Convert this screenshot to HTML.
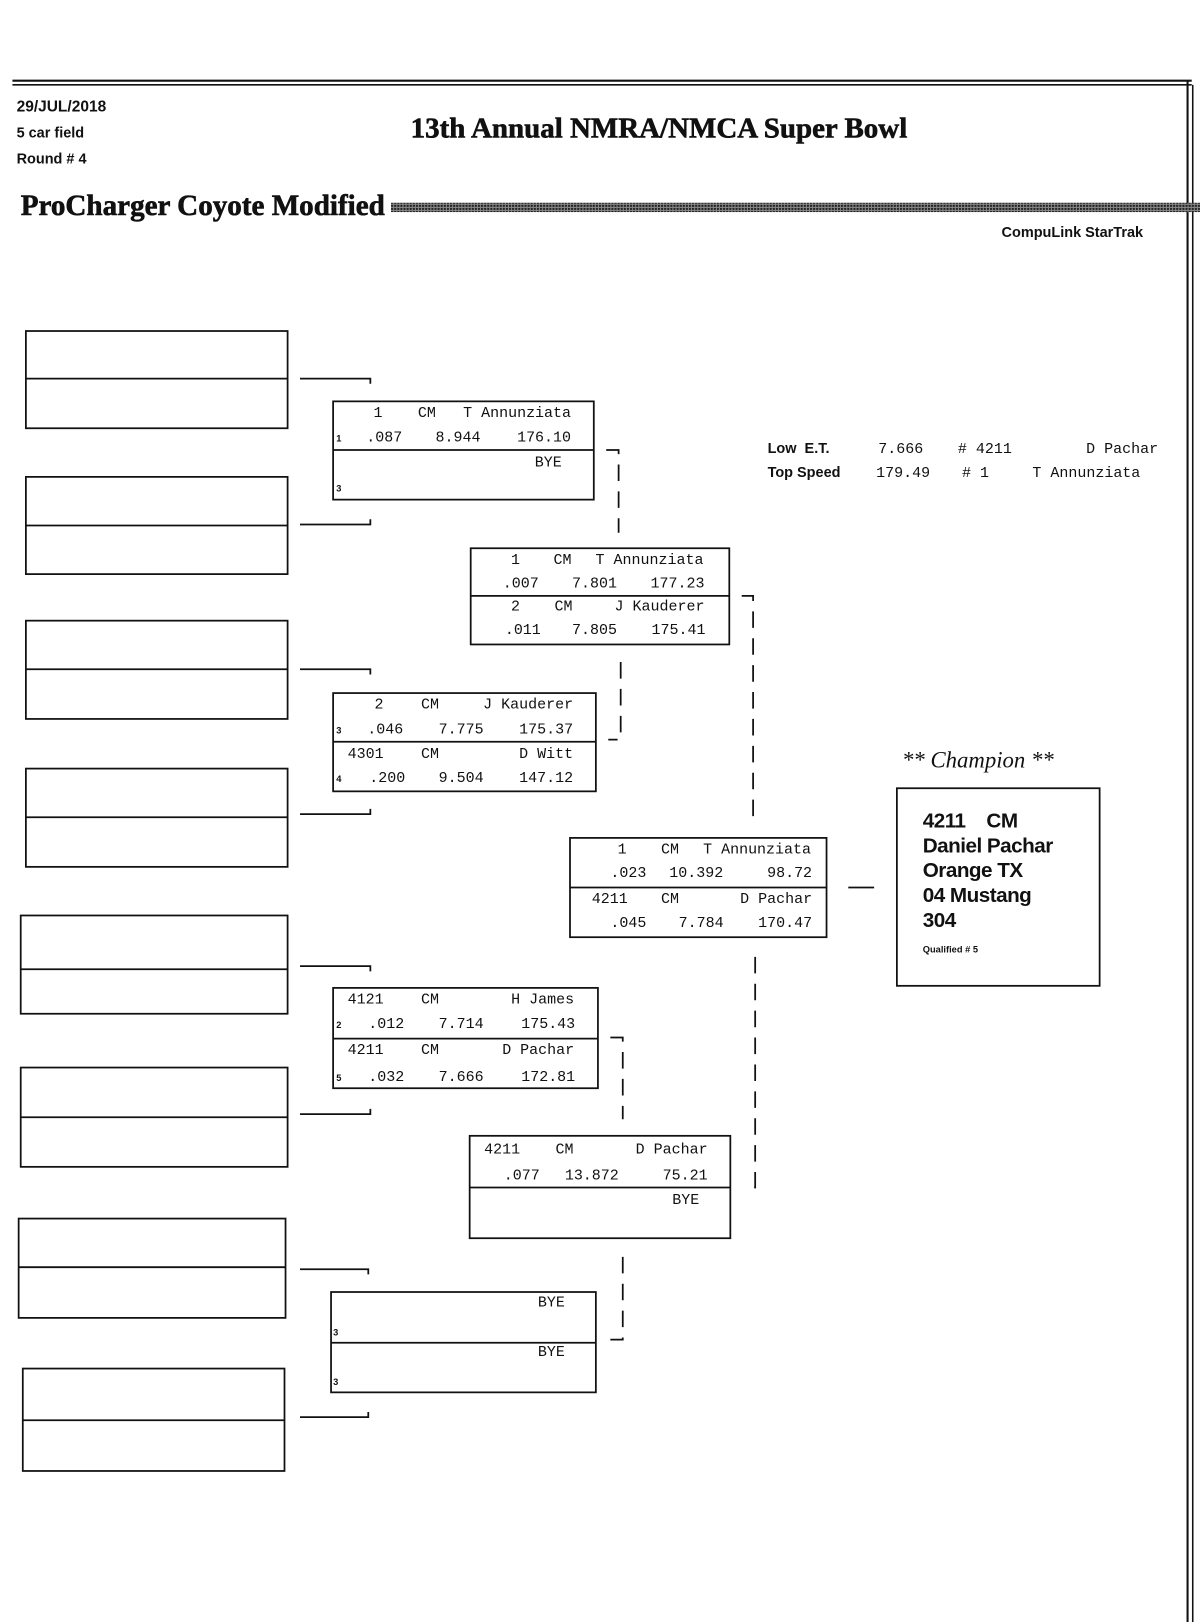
<!DOCTYPE html>
<html><head><meta charset="utf-8"><style>
html,body{margin:0;padding:0;background:#fff;}
svg{display:block}
.m{font-family:"Liberation Mono",monospace;font-size:14.5px;fill:#111}
.s{font-family:"Liberation Sans",sans-serif;font-size:9px;font-weight:bold;fill:#111}
.h{font-family:"Liberation Sans",sans-serif;font-weight:bold;fill:#111}
.t{font-family:"Liberation Serif",serif;font-weight:bold;fill:#111;stroke:#111;stroke-width:0.6}
.c{font-family:"Liberation Sans",sans-serif;font-weight:bold;font-size:20px;fill:#111;letter-spacing:-0.5px}
</style></head><body>
<svg width="1200" height="1622" viewBox="0 0 1160 1568" xmlns="http://www.w3.org/2000/svg">
<defs><pattern id="hat" width="3" height="3" patternUnits="userSpaceOnUse"><rect width="3" height="3" fill="#888"/><rect width="2" height="2" fill="#222"/></pattern></defs>
<g stroke="#111" fill="none">
<line x1="12" y1="78" x2="1152" y2="78" stroke-width="2"/>
<line x1="12" y1="82" x2="1152" y2="82" stroke-width="1.5"/>
<line x1="1148" y1="78" x2="1148" y2="1568" stroke-width="2"/>
<line x1="1153" y1="82" x2="1153" y2="1568" stroke-width="1.5"/>
</g>
<rect x="378" y="196" width="782" height="9" fill="url(#hat)"/>
<text class="h" x="16" y="108" font-size="15">29/JUL/2018</text>
<text class="h" x="16" y="133" font-size="14">5 car field</text>
<text class="h" x="16" y="158" font-size="14">Round # 4</text>
<text class="t" x="637" y="133" font-size="28" text-anchor="middle">13th Annual NMRA/NMCA Super Bowl</text>
<text class="t" x="20" y="208" font-size="29" transform="translate(20 0) scale(0.97 1) translate(-20 0)">ProCharger Coyote Modified</text>
<text class="h" x="1105" y="229" font-size="14" text-anchor="end">CompuLink StarTrak</text>

<g stroke="#111" stroke-width="1.7" fill="none">
<rect x="25" y="320" width="253" height="94"/><line x1="25" y1="366" x2="278" y2="366"/>
<rect x="25" y="461" width="253" height="94"/><line x1="25" y1="508" x2="278" y2="508"/>
<rect x="25" y="600" width="253" height="95"/><line x1="25" y1="647" x2="278" y2="647"/>
<rect x="25" y="743" width="253" height="95"/><line x1="25" y1="790" x2="278" y2="790"/>
<rect x="20" y="885" width="258" height="95"/><line x1="20" y1="937" x2="278" y2="937"/>
<rect x="20" y="1032" width="258" height="96"/><line x1="20" y1="1080" x2="278" y2="1080"/>
<rect x="18" y="1178" width="258" height="96"/><line x1="18" y1="1225" x2="276" y2="1225"/>
<rect x="22" y="1323" width="253" height="99"/><line x1="22" y1="1373" x2="275" y2="1373"/>

<path d="M290 366H358V371"/><path d="M290 507H358V502"/>
<path d="M290 647H358V652"/><path d="M290 787H358V782"/>
<path d="M290 934H358V939"/><path d="M290 1077H358V1072"/>
<path d="M290 1227H356V1232"/><path d="M290 1370H356V1365"/>

<rect x="322" y="388" width="252" height="95"/><line x1="322" y1="435" x2="574" y2="435"/>
<rect x="455" y="530" width="250" height="93"/><line x1="455" y1="576" x2="705" y2="576"/>
<rect x="322" y="670" width="254" height="95"/><line x1="322" y1="717" x2="576" y2="717"/>
<rect x="551" y="810" width="248" height="96"/><line x1="551" y1="858" x2="799" y2="858"/>
<rect x="322" y="955" width="256" height="97"/><line x1="322" y1="1004" x2="578" y2="1004"/>
<rect x="454" y="1098" width="252" height="99"/><line x1="454" y1="1148" x2="706" y2="1148"/>
<rect x="320" y="1249" width="256" height="97"/><line x1="320" y1="1298" x2="576" y2="1298"/>
<rect x="867" y="762" width="196" height="191"/>
<line x1="820" y1="858" x2="845" y2="858"/>

<path d="M586 435H598V515" stroke-dasharray="16 10"/>
<path d="M600 640V715H588" stroke-dasharray="16 10"/>
<path d="M717 576H728V795" stroke-dasharray="16 10"/>
<path d="M730 925V1148H720" stroke-dasharray="16 10"/>
<path d="M590 1003H602V1082" stroke-dasharray="16 10"/>
<path d="M602 1215V1295H590" stroke-dasharray="16 10"/>
</g>

<text class="m" x="361" y="403">1</text><text class="m" x="404" y="403">CM</text><text class="m" x="552" y="403" text-anchor="end">T Annunziata</text>
<text class="s" x="325" y="427">1</text><text class="m" x="354" y="427">.087</text><text class="m" x="421" y="427">8.944</text><text class="m" x="552" y="427" text-anchor="end">176.10</text>
<text class="m" x="543" y="451" text-anchor="end">BYE</text><text class="s" x="325" y="475">3</text>

<text class="m" x="494" y="545">1</text><text class="m" x="535" y="545">CM</text><text class="m" x="680" y="545" text-anchor="end">T Annunziata</text>
<text class="m" x="486" y="568">.007</text><text class="m" x="553" y="568">7.801</text><text class="m" x="681" y="568" text-anchor="end">177.23</text>
<text class="m" x="494" y="590">2</text><text class="m" x="536" y="590">CM</text><text class="m" x="681" y="590" text-anchor="end">J Kauderer</text>
<text class="m" x="488" y="613">.011</text><text class="m" x="553" y="613">7.805</text><text class="m" x="682" y="613" text-anchor="end">175.41</text>

<text class="m" x="362" y="685">2</text><text class="m" x="407" y="685">CM</text><text class="m" x="554" y="685" text-anchor="end">J Kauderer</text>
<text class="s" x="325" y="709">3</text><text class="m" x="355" y="709">.046</text><text class="m" x="424" y="709">7.775</text><text class="m" x="554" y="709" text-anchor="end">175.37</text>
<text class="m" x="336" y="733">4301</text><text class="m" x="407" y="733">CM</text><text class="m" x="554" y="733" text-anchor="end">D Witt</text>
<text class="s" x="325" y="756">4</text><text class="m" x="357" y="756">.200</text><text class="m" x="424" y="756">9.504</text><text class="m" x="554" y="756" text-anchor="end">147.12</text>

<text class="m" x="597" y="825">1</text><text class="m" x="639" y="825">CM</text><text class="m" x="784" y="825" text-anchor="end">T Annunziata</text>
<text class="m" x="590" y="848">.023</text><text class="m" x="647" y="848">10.392</text><text class="m" x="785" y="848" text-anchor="end">98.72</text>
<text class="m" x="572" y="873">4211</text><text class="m" x="639" y="873">CM</text><text class="m" x="785" y="873" text-anchor="end">D Pachar</text>
<text class="m" x="590" y="896">.045</text><text class="m" x="656" y="896">7.784</text><text class="m" x="785" y="896" text-anchor="end">170.47</text>

<text class="m" x="336" y="970">4121</text><text class="m" x="407" y="970">CM</text><text class="m" x="555" y="970" text-anchor="end">H James</text>
<text class="s" x="325" y="994">2</text><text class="m" x="356" y="994">.012</text><text class="m" x="424" y="994">7.714</text><text class="m" x="556" y="994" text-anchor="end">175.43</text>
<text class="m" x="336" y="1019">4211</text><text class="m" x="407" y="1019">CM</text><text class="m" x="555" y="1019" text-anchor="end">D Pachar</text>
<text class="s" x="325" y="1045">5</text><text class="m" x="356" y="1045">.032</text><text class="m" x="424" y="1045">7.666</text><text class="m" x="556" y="1045" text-anchor="end">172.81</text>

<text class="m" x="468" y="1115">4211</text><text class="m" x="537" y="1115">CM</text><text class="m" x="684" y="1115" text-anchor="end">D Pachar</text>
<text class="m" x="487" y="1140">.077</text><text class="m" x="546" y="1140">13.872</text><text class="m" x="684" y="1140" text-anchor="end">75.21</text>
<text class="m" x="676" y="1164" text-anchor="end">BYE</text>

<text class="m" x="546" y="1263" text-anchor="end">BYE</text><text class="s" x="322" y="1291">3</text>
<text class="m" x="546" y="1311" text-anchor="end">BYE</text><text class="s" x="322" y="1339">3</text>

<text class="h" x="742" y="438" font-size="14">Low&#160; E.T.</text>
<text class="m" x="849" y="438">7.666</text><text class="m" x="926" y="438"># 4211</text><text class="m" x="1050" y="438">D Pachar</text>
<text class="h" x="742" y="461" font-size="14">Top Speed</text>
<text class="m" x="847" y="461">179.49</text><text class="m" x="930" y="461"># 1</text><text class="m" x="998" y="461">T Annunziata</text>

<text x="872" y="742" font-family="Liberation Serif,serif" font-style="italic" font-size="22" fill="#111">** Champion **</text>
<text class="c" x="892" y="800">4211&#160;&#160;&#160; CM</text>
<text class="c" x="892" y="824">Daniel Pachar</text>
<text class="c" x="892" y="848">Orange TX</text>
<text class="c" x="892" y="872">04 Mustang</text>
<text class="c" x="892" y="896">304</text>
<text class="s" x="892" y="921" font-size="10">Qualified # 5</text>
</svg>
</body></html>
